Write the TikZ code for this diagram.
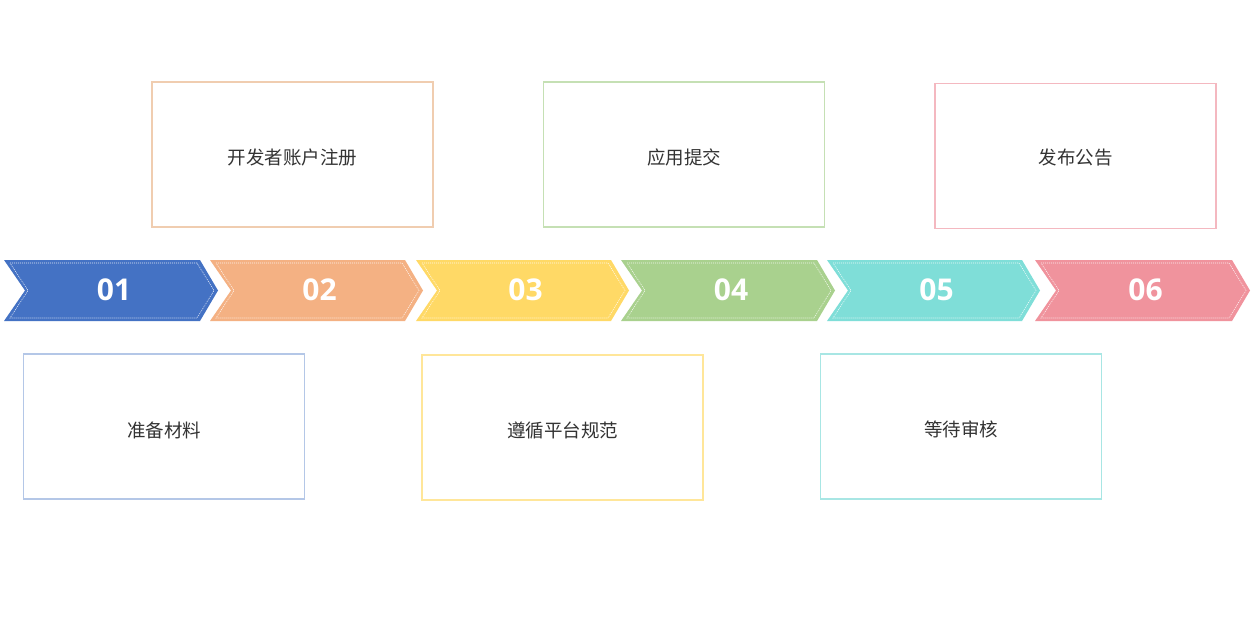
\documentclass[tikz,border=0pt]{standalone}
\usepackage{fontspec}
\newfontfamily\cjk{Noto Sans CJK SC}
\newfontfamily\numfont{Open Sans}
\definecolor{c1}{HTML}{4472C4}
\definecolor{c2}{HTML}{F4B183}
\definecolor{c3}{HTML}{FFD966}
\definecolor{c4}{HTML}{A9D18E}
\definecolor{c5}{HTML}{7FDED8}
\definecolor{c6}{HTML}{F0939D}
\definecolor{b1}{HTML}{B4C7E7}
\definecolor{b2}{HTML}{F0CDB0}
\definecolor{b3}{HTML}{FFE699}
\definecolor{b4}{HTML}{C5E0B4}
\definecolor{b5}{HTML}{A8E6E4}
\definecolor{b6}{HTML}{F4B8C0}
\definecolor{txt}{HTML}{333333}
\tikzset{
  numlabel/.style={text=white,font=\numfont\bfseries\fontsize{30}{32}\selectfont,inner sep=0pt},
  infobox/.style={draw=#1,line width=1.8pt,minimum width=281pt,minimum height=145pt,inner sep=0pt},
  infotext/.style={font=\cjk\fontsize{18.5}{20}\selectfont,text=txt,inner sep=0pt},
  innerdash/.style={draw=white,line width=0.6pt,dash pattern=on 1pt off 1pt,opacity=0.85}
}
\begin{document}
\begin{tikzpicture}[x=1pt,y=-1pt]
\useasboundingbox[fill=white] (0,0) rectangle (1257,620);
\foreach \L/\c/\n/\w in {4/c1/01/214,210/c2/02/213,416/c3/03/213,621/c4/04/214,827/c5/05/213,1035/c6/06/215}{
  \fill[\c] (\L,260) -- (\L+\w-18,260) -- (\L+\w,290.5) -- (\L+\w-18,321) -- (\L,321) -- (\L+21,290.5) -- cycle;
  \draw[innerdash] (\L+6,263) -- (\L+\w-21,263) -- (\L+\w-4,290.5) -- (\L+\w-21,318) -- (\L+6,318) -- (\L+24,290.5) -- cycle;
  \node[numlabel] (n\n) at (\L+\w/2+3,290) {\n};
}
\node[infobox=b2] (s2) at (292.5,154.5) {};
\node[infobox=b4] (s4) at (684,154.5) {};
\node[infobox=b6] (s6) at (1075.5,156) {};
\node[infobox=b1] (s1) at (164,426.5) {};
\node[infobox=b3] (s3) at (562.5,427.5) {};
\node[infobox=b5] (s5) at (961,426.5) {};
\node[infotext] (t2) at ([yshift=-3pt]s2.center) {开发者账户注册};
\node[infotext] (t4) at ([yshift=-3pt]s4.center) {应用提交};
\node[infotext] (t6) at ([yshift=-2pt]s6.center) {发布公告};
\node[infotext] (t1) at ([yshift=-4pt]s1.center) {准备材料};
\node[infotext] (t3) at ([yshift=-3pt]s3.center) {遵循平台规范};
\node[infotext] (t5) at ([yshift=-3pt]s5.center) {等待审核};
\end{tikzpicture}
\end{document}
